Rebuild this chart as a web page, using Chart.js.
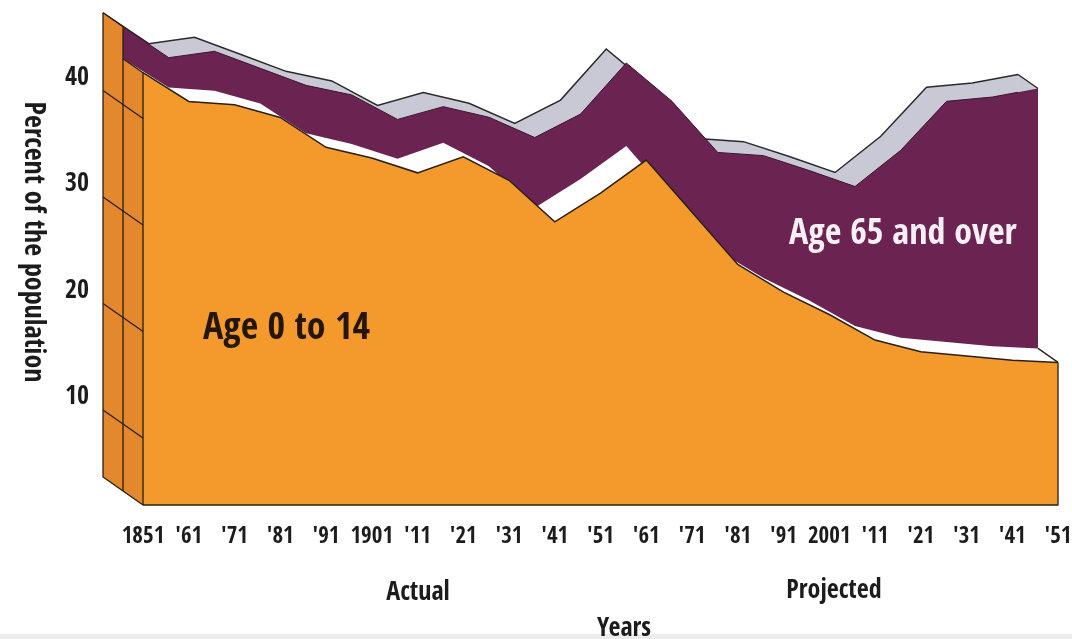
<!DOCTYPE html>
<html>
<head>
<meta charset="utf-8">
<script src="https://cdn.jsdelivr.net/npm/chart.js@4.4.1/dist/chart.umd.min.js"></script>
<style>
  html, body { margin: 0; padding: 0; background: #fff; }
  #wrap { width: 1072px; height: 639px; position: relative; }
</style>
</head>
<body>
<div id="wrap"><canvas id="chart"></canvas></div>
<script>
// census years, actual up to 2001 and projected after
const years = [1851, 1861, 1871, 1881, 1891, 1901, 1911, 1921, 1931, 1941, 1951,
               1961, 1971, 1981, 1991, 2001, 2011, 2021, 2031, 2041, 2051];
const yearLabels = ["1851", "'61", "'71", "'81", "'91", "1901", "'11", "'21", "'31", "'41", "'51",
                    "'61", "'71", "'81", "'91", "2001", "'11", "'21", "'31", "'41", "'51"];
// percent of the population
const age0to14 = [44.3, 41.6, 41.3, 40.1, 37.3, 36.3, 34.9, 36.4, 34.2, 30.3, 33.0,
                  36.1, 31.2, 26.3, 23.7, 21.6, 19.2, 18.1, 17.7, 17.3, 17.1];
const age65plus = [3.0, 2.8, 3.7, 3.3, 4.5, 4.6, 3.7, 3.4, 4.6, 6.6, 6.1,
                   7.8, 9.1, 9.2, 11.5, 12.2, 13.1, 17.6, 22.6, 23.4, 24.4];
const percentTicks = [10, 20, 30, 40];

// the 65+ layer sits on top of the young one
const total = age0to14.map((v, i) => +(v + age65plus[i]).toFixed(1));

// fake 3d: every layer is pushed back by this much (axis units)
const DEPTH_YEARS = 4.37;
const DEPTH_PCT = 1.315;
const Y_FLOOR = 3.71;

const FONT = "'Open Sans Condensed', 'Roboto Condensed', 'DejaVu Sans Condensed', sans-serif";
const WALL = '#E3882C';

function shifted(values, k) {
    return years.map((yr, i) => ({ x: yr - k * DEPTH_YEARS, y: values[i] + k * DEPTH_PCT }));
}

const depth = {
    id: 'depth',
    beforeDraw(chart) {
        const ctx = chart.ctx;
        ctx.save();
        ctx.fillStyle = '#ffffff';
        ctx.fillRect(0, 0, chart.width, chart.height);
        ctx.fillStyle = '#ececec';
        ctx.fillRect(0, chart.height - 5, chart.width, 5);
        ctx.restore();
    },
    afterDatasetsDraw(chart) {
        const ctx = chart.ctx;
        const sx = chart.scales.x, sy = chart.scales.y;
        const px = (yr, k) => sx.getPixelForValue(yr - k * DEPTH_YEARS);
        const py = (v, k) => sy.getPixelForValue(v + k * DEPTH_PCT);
        const n = years.length - 1;
        const a = years[0], b = years[n];

        const path = (pts) => {
            ctx.beginPath();
            pts.forEach((p, i) => i ? ctx.lineTo(p[0], p[1]) : ctx.moveTo(p[0], p[1]));
        };
        const line = (pts) => { path(pts); ctx.stroke(); };
        const shape = (pts, color) => { path(pts); ctx.closePath(); ctx.fillStyle = color; ctx.fill(); };

        ctx.save();
        ctx.lineJoin = 'round';
        ctx.strokeStyle = '#2b1e14';
        ctx.lineWidth = 1.3;

        // left side walls
        shape([[px(a, 2), py(total[0], 2)], [px(a, 1), py(total[0], 1)],
               [px(a, 1), py(Y_FLOOR, 1)], [px(a, 2), py(Y_FLOOR, 2)]], WALL);
        shape([[px(a, 1), py(age0to14[0], 1)], [px(a, 0), py(age0to14[0], 0)],
               [px(a, 0), py(Y_FLOOR, 0)], [px(a, 1), py(Y_FLOOR, 1)]], WALL);
        percentTicks.forEach(v => line([[px(a, 2), py(v, 2)], [px(a, 0), py(v, 0)]]));
        line([[px(a, 2), py(total[0], 2)], [px(a, 2), py(Y_FLOOR, 2)], [px(a, 0), py(Y_FLOOR, 0)],
              [px(b, 0), py(Y_FLOOR, 0)], [px(b, 0), py(age0to14[n], 0)]]);
        line([[px(a, 2), py(total[0], 2)], [px(a, 1), py(total[0], 1)], [px(a, 1), py(Y_FLOOR, 1)]]);
        line([[px(a, 1), py(age0to14[0], 1)], [px(a, 0), py(age0to14[0], 0)], [px(a, 0), py(Y_FLOOR, 0)]]);

        // right end of the grey top face
        const step = years[n] - years[n - 1];
        const f = (step - DEPTH_YEARS) / step;
        const under = total[n - 1] + f * (total[n] - total[n - 1]) + DEPTH_PCT;
        shape([[px(b, 2), py(total[n], 2)], [px(b, 1), py(total[n], 1)], [px(b, 2), py(under, 0)]], '#C9C9D5');
        line([[px(b, 2), py(total[n], 2)], [px(b, 1), py(total[n], 1)]]);
        line([[px(b, 1), py(age0to14[n], 1)], [px(b, 0), py(age0to14[n], 0)]]);

        // labels
        ctx.textBaseline = 'alphabetic';
        ctx.textAlign = 'left';
        ctx.fillStyle = '#24160c';
        ctx.font = 'bold 38px ' + FONT;
        ctx.fillText('Age 0 to 14', 203, 339);
        ctx.fillStyle = '#f6f0f4';
        ctx.font = 'bold 36px ' + FONT;
        ctx.fillText('Age 65 and over', 789, 244);

        ctx.fillStyle = '#1c1c1c';
        ctx.textAlign = 'center';
        ctx.font = 'bold 26px ' + FONT;
        ctx.fillText('Actual', 418, 600);
        ctx.fillText('Projected', 834, 598);
        ctx.fillText('Years', 624, 636);

        ctx.translate(32, 242);
        ctx.rotate(Math.PI / 2);
        ctx.textBaseline = 'middle';
        ctx.font = 'bold 28px ' + FONT;
        ctx.fillText('Percent of the population', 0, 0);
        ctx.restore();
    }
};

const noEdgePad = s => { s.paddingLeft = 0; s.paddingRight = 0; s.paddingTop = 0; s.paddingBottom = 0; };

new Chart(document.getElementById('chart'), {
    type: 'line',
    data: {
        datasets: [
            { label: 'Age 0 to 14', data: shifted(age0to14, 0), backgroundColor: '#F49A2C',
              borderColor: '#2a2018', borderWidth: 1.5, fill: { value: Y_FLOOR } },
            { label: 'top of 0 to 14', data: shifted(age0to14, 1), backgroundColor: '#ffffff',
              borderWidth: 0, fill: { value: Y_FLOOR + DEPTH_PCT } },
            { label: 'Age 65 and over', data: shifted(total, 1), backgroundColor: '#6B2352',
              borderColor: '#3d1430', borderWidth: 1, fill: { value: Y_FLOOR + DEPTH_PCT } },
            { label: 'top of 65 and over', data: shifted(total, 2), backgroundColor: '#C9C9D5',
              borderColor: '#2a2a2a', borderWidth: 1.5, fill: { value: Y_FLOOR + 2 * DEPTH_PCT } }
        ]
    },
    options: {
        responsive: true,
        maintainAspectRatio: false,
        animation: false,
        layout: { padding: { top: 10, right: 10, bottom: 0, left: 0 } },
        elements: { point: { radius: 0 }, line: { tension: 0 } },
        plugins: { legend: { display: false }, tooltip: { enabled: false } },
        scales: {
            x: {
                type: 'linear', min: 1841.6, max: 2051.87,
                grid: { display: false, drawTicks: false }, border: { display: false },
                afterBuildTicks: s => { s.ticks = years.map(v => ({ value: v })); },
                afterFit: s => { s.height = 134; noEdgePad(s); },
                ticks: {
                    autoSkip: false, maxRotation: 0, minRotation: 0, padding: 18, color: '#1c1c1c',
                    font: { family: FONT, size: 23, weight: 'bold' },
                    callback: v => yearLabels[years.indexOf(v)]
                }
            },
            y: { type: 'linear', min: Y_FLOOR, max: 50.19, display: false },
            yLab: {
                type: 'linear', position: 'left', min: -0.14, max: 46.43,
                grid: { display: false, drawTicks: false }, border: { display: false },
                afterBuildTicks: s => { s.ticks = percentTicks.map(v => ({ value: v })); },
                afterFit: s => { s.width = 100; noEdgePad(s); },
                ticks: { padding: 11, color: '#1c1c1c', font: { family: FONT, size: 26, weight: 'bold' } }
            }
        }
    },
    plugins: [depth]
});
</script>
</body>
</html>
